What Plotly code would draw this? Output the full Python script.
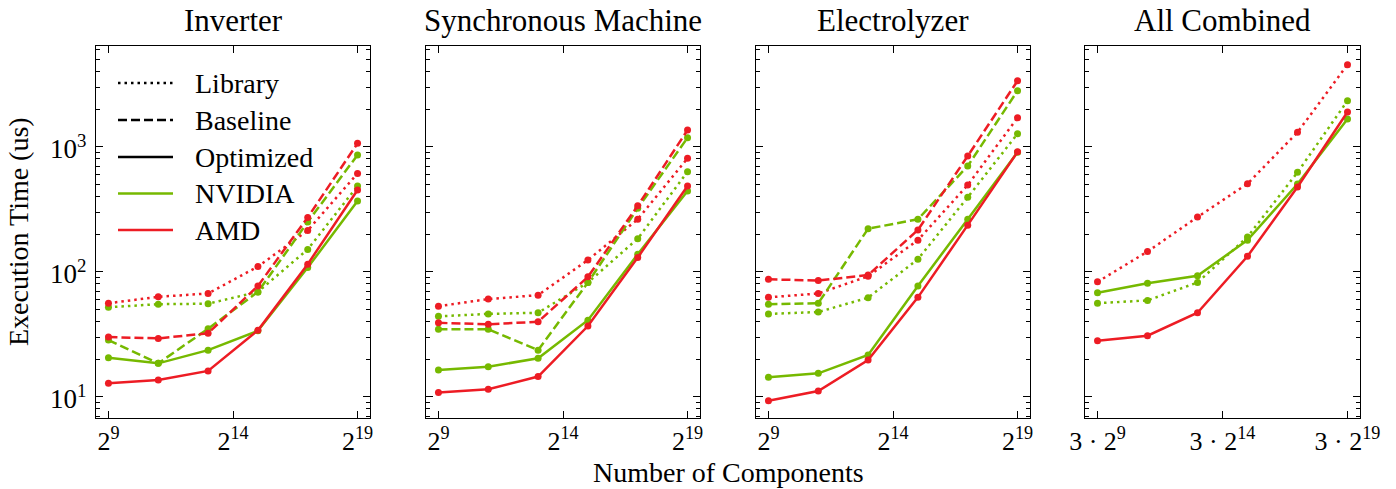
import plotly.graph_objects as go
import math

# ---------------- data ----------------
exponents = [9, 11, 13, 15, 17, 19]
components = [2 ** k for k in exponents]
components_combined = [3 * 2 ** k for k in exponents]

panel_titles = ["Inverter", "Synchronous Machine", "Electrolyzer", "All Combined"]

inv_lib_nv = [52, 55, 55.5, 69, 151, 485]
inv_lib_amd = [56, 63, 67, 110, 214, 612]
inv_base_nv = [28.4, 18.5, 35, 69, 250, 860]
inv_base_amd = [30, 29.3, 32.2, 77, 272, 1065]
inv_opt_nv = [20.5, 18.5, 23.6, 33.7, 108, 368]
inv_opt_amd = [12.8, 13.6, 16.1, 34, 115, 451]

syn_lib_nv = [44, 46, 47, 82, 184, 631]
syn_lib_amd = [53, 60.5, 65, 124, 263, 808]
syn_base_nv = [34.6, 34.6, 23.6, 82, 322, 1180]
syn_base_amd = [39, 38, 39.8, 91, 337, 1360]
syn_opt_nv = [16.4, 17.4, 20.3, 41, 138, 442]
syn_opt_amd = [10.8, 11.5, 14.5, 36.8, 130, 485]

ele_lib_nv = [46, 47.6, 62, 126, 394, 1270]
ele_lib_amd = [62.4, 67, 92, 179, 494, 1706]
ele_base_nv = [55, 56, 221, 263, 701, 2805]
ele_base_amd = [87, 85, 94, 216, 843, 3370]
ele_opt_nv = [14.3, 15.4, 21.6, 77, 263, 902]
ele_opt_amd = [9.3, 11.1, 19.7, 62.4, 236, 910]

all_lib_nv = [56, 59, 82, 190, 624, 2333]
all_lib_amd = [83, 145, 274, 506, 1304, 4530]
all_opt_nv = [68, 81, 93, 179, 503, 1665]
all_opt_amd = [28, 30.8, 47, 133, 476, 1896]

x_tick_exps = [9, 14, 19]
y_tick_vals = [10, 100, 1000]
y_tick_text = ["10<sup>1</sup>", "10<sup>2</sup>", "10<sup>3</sup>"]
legend_labels = ["Library", "Baseline", "Optimized", "NVIDIA", "AMD"]

# ---------------- style ----------------
GREEN = "#76b900"
RED = "#ed1c24"
FONT = "Liberation Serif"
LW = 2.5
DASH = {"lib": "2.5px,4px", "base": "9px,4px", "opt": "solid"}

W, H = 1396, 489
ML, MR, MT, MB = 96, 36, 46, 71
PW = W - ML - MR
PH = H - MT - MB

panel_px = [(96, 370), (426, 700), (756, 1030), (1085, 1360)]
domains = [((a - ML) / PW, (b - ML) / PW) for a, b in panel_px]

panels = [
    (components, [("lib", inv_lib_nv, inv_lib_amd), ("base", inv_base_nv, inv_base_amd), ("opt", inv_opt_nv, inv_opt_amd)], 1),
    (components, [("lib", syn_lib_nv, syn_lib_amd), ("base", syn_base_nv, syn_base_amd), ("opt", syn_opt_nv, syn_opt_amd)], 1),
    (components, [("lib", ele_lib_nv, ele_lib_amd), ("base", ele_base_nv, ele_base_amd), ("opt", ele_opt_nv, ele_opt_amd)], 1),
    (components_combined, [("lib", all_lib_nv, all_lib_amd), ("opt", all_opt_nv, all_opt_amd)], 3),
]

fig = go.Figure()

minor_y = [m * 10 ** e for e in range(0, 4) for m in range(2, 10)]

for i, (xs, series, mult) in enumerate(panels):
    n = i + 1
    xa = "x" if n == 1 else f"x{n}"
    ya = "y" if n == 1 else f"y{n}"
    for kind, nv, amd in series:
        for vals, col in ((nv, GREEN), (amd, RED)):
            fig.add_trace(go.Scatter(
                x=xs, y=vals, mode="lines+markers", xaxis=xa, yaxis=ya,
                line=dict(color=col, width=LW, dash=DASH[kind]),
                marker=dict(color=col, size=7, symbol="circle"),
                showlegend=False, hoverinfo="x+y"))

    if mult == 1:
        tv = [2 ** k for k in x_tick_exps]
        tt = [f"2<sup>{k}</sup>" for k in x_tick_exps]
    else:
        tv = [3 * 2 ** k for k in x_tick_exps]
        tt = [f"3 · 2<sup>{k}</sup>" for k in x_tick_exps]
    lo = math.log10(mult * 2 ** 8.5)
    hi = math.log10(mult * 2 ** 19.5)
    xkey = "xaxis" if n == 1 else f"xaxis{n}"
    ykey = "yaxis" if n == 1 else f"yaxis{n}"
    fig.layout[xkey] = dict(
        type="log", range=[lo, hi], domain=list(domains[i]), anchor=ya,
        tickvals=tv, ticktext=tt, ticks="inside", ticklen=7, tickwidth=1.2,
        tickcolor="black", showline=True, linecolor="black", linewidth=1.3,
        mirror="allticks", showgrid=False, zeroline=False,
        tickfont=dict(family=FONT, size=26, color="black"))
    fig.layout[ykey] = dict(
        type="log", range=[0.83, 3.806], domain=[0, 1], anchor=xa,
        tickvals=y_tick_vals, showticklabels=False,
        ticks="inside", ticklen=7, tickwidth=1.2, tickcolor="black",
        showline=True, linecolor="black", linewidth=1.3, mirror="allticks",
        showgrid=False, zeroline=False,
        minor=dict(tickvals=minor_y, ticks="inside", ticklen=4, tickwidth=1, tickcolor="black", showgrid=False))

    cx = (domains[i][0] + domains[i][1]) / 2
    fig.add_annotation(text=panel_titles[i], x=cx, y=1 + (MT - 20) / PH, xref="paper", yref="paper",
                       xanchor="center", yanchor="middle", showarrow=False,
                       font=dict(family=FONT, size=31, color="black"))

# y tick labels (shared axis, first panel only)
for v, t in zip(y_tick_vals, y_tick_text):
    fig.add_annotation(text=t, x=(88 - ML) / PW, y=math.log10(v), xref="paper", yref="y",
                       xanchor="right", yanchor="middle", showarrow=False,
                       font=dict(family=FONT, size=27, color="black"))

# axis titles
fig.add_annotation(text="Number of Components", x=(728 - ML) / PW, y=-(472 - (MT + PH)) / PH,
                   xref="paper", yref="paper", xanchor="center", yanchor="middle", showarrow=False,
                   font=dict(family=FONT, size=28, color="black"))
fig.add_annotation(text="Execution Time (us)", x=(18 - ML) / PW, y=(MT + PH - 232) / PH,
                   xref="paper", yref="paper", xanchor="center", yanchor="middle", showarrow=False,
                   textangle=-90, font=dict(family=FONT, size=28, color="black"))

# manual legend inside first panel
legend_styles = [("black", DASH["lib"]), ("black", DASH["base"]), ("black", "solid"),
                 (GREEN, "solid"), (RED, "solid")]
legend_rows_px = [83, 120, 157, 193.5, 230]
x0 = (118 - 96) / 274
x1 = (173 - 96) / 274
xt = (193 - 96) / 274
for lab, (col, dsh), ypx in zip(legend_labels, legend_styles, legend_rows_px):
    yf = (MT + PH - ypx) / PH
    fig.add_shape(type="line", xref="x domain", yref="y domain", x0=x0, x1=x1, y0=yf, y1=yf,
                  line=dict(color=col, width=LW, dash=dsh))
    fig.add_annotation(text=lab, xref="x domain", yref="y domain", x=xt, y=yf,
                       xanchor="left", yanchor="middle", showarrow=False,
                       font=dict(family=FONT, size=28, color="black"))

fig.update_layout(width=W, height=H, margin=dict(l=ML, r=MR, t=MT, b=MB),
                  paper_bgcolor="white", plot_bgcolor="white", showlegend=False,
                  font=dict(family=FONT, color="black"))

fig.write_html("out.html")
